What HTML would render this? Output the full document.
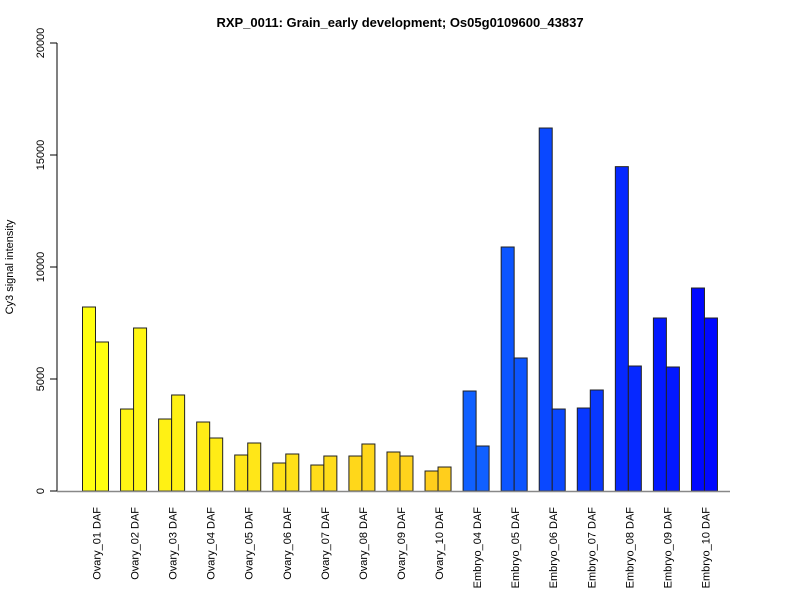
<!DOCTYPE html>
<html><head><meta charset="utf-8"><style>
body{margin:0;background:#fff;}
svg{display:block;font-family:"Liberation Sans",Arial,sans-serif;}
</style></head><body>
<svg id="chart" width="800" height="600" viewBox="0 0 800 600" xmlns="http://www.w3.org/2000/svg">
<text x="400" y="27" text-anchor="middle" font-size="13" font-weight="bold">RXP_0011: Grain_early development; Os05g0109600_43837</text>
<text transform="translate(13,267) rotate(-90)" text-anchor="middle" font-size="11">Cy3 signal intensity</text>
<g id="marks"></g>
</svg>
<script>
const categories = ["Ovary_01 DAF","Ovary_02 DAF","Ovary_03 DAF","Ovary_04 DAF","Ovary_05 DAF","Ovary_06 DAF","Ovary_07 DAF","Ovary_08 DAF","Ovary_09 DAF","Ovary_10 DAF","Embryo_04 DAF","Embryo_05 DAF","Embryo_06 DAF","Embryo_07 DAF","Embryo_08 DAF","Embryo_09 DAF","Embryo_10 DAF"];
const rep1 = [8214,3660,3214,3080,1607,1250,1160,1562,1741,893,4464,10893,16205,3705,14480,7723,9062];
const rep2 = [6652,7277,4286,2366,2143,1652,1562,2098,1562,1071,2009,5938,3660,4509,5580,5536,7723];
const colors = ["#FFFF10","#FFF614","#FFF114","#FFEC16","#FFE618","#FFE118","#FFDC1A","#FFD71A","#FFD31C","#FFCE1C","#1060FF","#0C55FF","#0A48FF","#0838FF","#0628FF","#0318FF","#0008FF"];
const yTicks = [0,5000,10000,15000,20000];

const NS="http://www.w3.org/2000/svg";
const svg=document.getElementById('chart');
const g=document.getElementById('marks');
const y0=491, yMax=20000, yTop=43;
const yS=v=>y0-(v/yMax)*(y0-yTop);
const x0=82.5, step=38.06, bw=13;
const xS=i=>x0+i*step;
function mk(t,a){const e=document.createElementNS(NS,t);for(const k in a)e.setAttribute(k,a[k]);return e;}

// y axis
let ax=mk('line',{x1:57,x2:57,y1:yS(0),y2:yS(20000),stroke:'#000'});


svg.appendChild(ax);
yTicks.forEach(v=>{
  const t=mk('line',{x1:50,x2:57,y1:yS(v),y2:yS(v),stroke:'#000'});
  
  
  svg.appendChild(t);
  const l=mk('text',{transform:`translate(44,${yS(v)}) rotate(-90)`,'text-anchor':'middle','font-size':11});
  
  
  l.textContent=v; svg.appendChild(l);
});
// bars
categories.forEach((c,i)=>{
  [rep1[i],rep2[i]].forEach((v,j)=>{
    const r=mk('rect',{x:xS(i)+j*bw,y:yS(v),width:bw,height:yS(0)-yS(v),fill:colors[i],stroke:'#222','stroke-width':1});
    
    
    g.appendChild(r);
  });
  const cx=xS(i)+bw+1;
  const l=mk('text',{transform:`translate(${cx+4},507) rotate(-90)`,'text-anchor':'end','font-size':11});
  
  
  l.textContent=c; svg.appendChild(l);
});
let xa=mk('line',{x1:57,x2:730,y1:y0+0.5,y2:y0+0.5,stroke:'#888','stroke-width':1.5});


svg.appendChild(xa);
</script>
</body></html>
